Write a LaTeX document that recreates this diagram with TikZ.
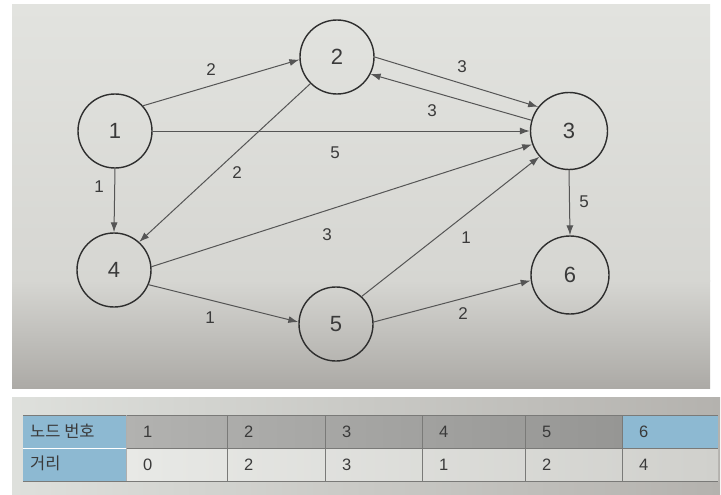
\documentclass[tikz,border=0pt]{standalone}
\usepackage{fontspec}
\setmainfont{Liberation Sans}
\newfontfamily\kr{Noto Sans CJK KR}
\usetikzlibrary{arrows.meta}
\definecolor{edgec}{HTML}{555555}
\definecolor{circc}{HTML}{2E2E2E}
\definecolor{textc}{HTML}{3A3A3A}
\definecolor{bluec}{HTML}{8DB9D2}
\definecolor{gridc}{HTML}{7A7A78}
\tikzset{
  vertex/.style={circle,draw=circc,line width=1.4pt,minimum size=74pt,inner sep=0pt,
    font=\fontsize{22}{22}\selectfont,text=textc},
  edge/.style={draw=edgec,line width=1pt,-{Latex[length=10pt,width=7pt]}},
  elabel/.style={font=\fontsize{17}{17}\selectfont,text=textc,inner sep=0pt},
  celltext/.style={font=\fontsize{16.5}{16.5}\selectfont,text=textc,inner sep=0pt,anchor=west},
}
\begin{document}
\begin{tikzpicture}[x=1pt,y=-1pt]
\useasboundingbox (0,0) rectangle (721,495);
\fill[white] (0,0) rectangle (721,495);
% photo backgrounds
\shade[top color={rgb,255:red,226;green,227;blue,223},bottom color={rgb,255:red,214;green,214;blue,210}] (12,5) rectangle (710,281);
\shade[top color={rgb,255:red,214;green,214;blue,210},bottom color={rgb,255:red,172;green,170;blue,166}] (12,280) rectangle (710,388);
\shade[left color={rgb,255:red,222;green,224;blue,220},right color={rgb,255:red,180;green,178;blue,174}] (12,397) rectangle (720,495);

% nodes
\node[vertex] (n1) at (115,131) {1};
\node[vertex] (n2) at (337,57) {2};
\node[vertex,minimum size=77pt] (n3) at (569,131) {3};
\node[vertex] (n4) at (114,270) {4};
\node[vertex] (n5) at (336,324) {5};
\node[vertex,minimum size=78pt] (n6) at (570,275) {6};

% edges
\draw[edge] (n1.42) -- (n2.184);
\draw[edge] (n2.0) -- (n3.142);
\draw[edge] (n3.164) -- (n2.333);
\draw[edge] (n1.0) -- (n3.180);
\draw[edge] (n1.270) -- (n4.90);
\draw[edge] (n2.225) -- (n4.48);
\draw[edge] (n4.5) -- (n3.200);
\draw[edge] (n4.337) -- (n5.177);
\draw[edge] (n5.47) -- (n3.221);
\draw[edge] (n5.3) -- (n6.188);
\draw[edge] (n3.270) -- (n6.90);

% edge labels
\node[elabel] (l12) at (211,70) {2};
\node[elabel] (l23) at (462,67) {3};
\node[elabel] (l32) at (432,111) {3};
\node[elabel] (l13) at (335,153) {5};
\node[elabel] (l14) at (99,187) {1};
\node[elabel] (l24) at (237,173) {2};
\node[elabel] (l43) at (327,235) {3};
\node[elabel] (l45) at (210,318) {1};
\node[elabel] (l53) at (466,238) {1};
\node[elabel] (l56) at (463,314) {2};
\node[elabel] (l36) at (584,202) {5};

% table
\fill[bluec] (23,415) rectangle (126,481);
\fill[bluec] (622,415) rectangle (718,448);
\shade[left color={rgb,255:red,178;green,178;blue,176},right color={rgb,255:red,150;green,150;blue,148}] (126,415) rectangle (622,448);
\shade[left color={rgb,255:red,232;green,233;blue,230},right color={rgb,255:red,208;green,208;blue,204}] (126,448) rectangle (718,481);
\draw[gridc,line width=1pt] (23,415) -- (718,415);
\draw[white,line width=1pt] (23,448) -- (126,448);
\draw[gridc,line width=0.6pt] (126,448) -- (718,448);
\draw[gridc,line width=0.8pt] (23,481) -- (718,481);
\foreach \xx in {227,325,422,525,622} \draw[gridc,line width=0.6pt] (\xx,415) -- (\xx,481);
\draw[gridc!60,line width=0.6pt] (126,415) -- (126,481);

\node[celltext] (hlab) at (30,431) {\kr 노드 번호};
\node[celltext] (dlab) at (30,463) {\kr 거리};
\foreach \xx/\t [count=\i] in {126/1,227/2,325/3,422/4,525/5,622/6}
  \node[celltext] (h\i) at (\xx+17,432) {\t};
\foreach \xx/\t [count=\i] in {126/0,227/2,325/3,422/1,525/2,622/4}
  \node[celltext] (d\i) at (\xx+17,465) {\t};
\end{tikzpicture}
\end{document}
